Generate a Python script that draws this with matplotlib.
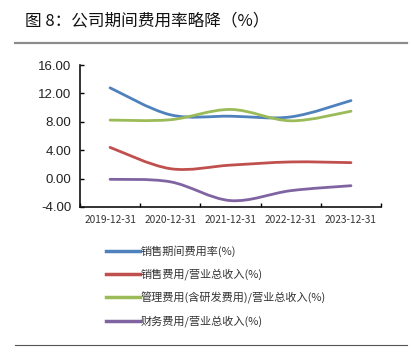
import numpy as np
import matplotlib
matplotlib.use('Agg')
from matplotlib import pyplot as plt
from matplotlib.path import Path
from matplotlib.patches import PathPatch
from matplotlib.lines import Line2D

plt.rcParams['font.family'] = ['Noto Sans CJK SC', 'DejaVu Sans']

# Data
dates = ['2019-12-31', '2020-12-31', '2021-12-31', '2022-12-31', '2023-12-31']
period_rate = [12.8, 9.0, 8.8, 8.7, 11.0]
sales_rate = [4.4, 1.4, 1.9, 2.35, 2.25]
admin_rate = [8.25, 8.3, 9.75, 8.15, 9.5]
finance_rate = [-0.1, -0.45, -3.1, -1.7, -1.0]

labels = ['销售期间费用率(%)', '销售费用/营业总收入(%)',
          '管理费用(含研发费用)/营业总收入(%)', '财务费用/营业总收入(%)']
colors = ['#4F81BD', '#C0504D', '#9BBB59', '#8064A2']
series = [period_rate, sales_rate, admin_rate, finance_rate]


def smooth_path(xs, ys):
    # Excel-like smoothed line: cubic Bezier segments (Catmull-Rom control points)
    pts = np.column_stack([xs, ys]).astype(float)
    n = len(pts)
    verts = [pts[0]]
    codes = [Path.MOVETO]
    for i in range(n - 1):
        p0 = pts[i - 1] if i > 0 else pts[i]
        p1 = pts[i]
        p2 = pts[i + 1]
        p3 = pts[i + 2] if i + 2 < n else pts[i + 1]
        c1 = p1 + (p2 - p0) / 6.0
        c2 = p2 - (p3 - p1) / 6.0
        verts += [c1, c2, p2]
        codes += [Path.CURVE4] * 3
    return Path(verts, codes)


fig = plt.figure(figsize=(4.12, 3.52), dpi=100)
ax = fig.add_axes([0.194, 0.412, 0.731, 0.403])

x = np.arange(len(dates))
for ys, c in zip(series, colors):
    ax.add_patch(PathPatch(smooth_path(x, ys), fill=False, edgecolor=c,
                           lw=2.0, capstyle='round'))

ax.set_xlim(-0.5, len(dates) - 0.5)
ax.set_ylim(-4, 16)
ax.set_yticks(np.arange(-4, 17, 4))
ax.set_yticklabels(['%.2f' % v for v in np.arange(-4, 17, 4)],
                   family='Liberation Sans', fontsize=9.5, color='#222222')
ax.set_xticks(x)
ax.set_xticklabels(dates, fontsize=7.3, color='#333333')
ax.set_xticks(np.arange(-0.5, len(dates), 1), minor=True)
ax.tick_params(axis='x', which='major', length=0, pad=6)
ax.tick_params(axis='x', which='minor', direction='in', length=3, width=1)
ax.tick_params(axis='y', direction='in', length=3, width=1, pad=6)

for s in ['top', 'right']:
    ax.spines[s].set_visible(False)
for s in ['left', 'bottom']:
    ax.spines[s].set_linewidth(1.2)
    ax.spines[s].set_color('#111111')

# Legend
handles = [Line2D([], [], color=c, lw=2.5) for c in colors]
fig.legend(handles, labels, loc='upper left', bbox_to_anchor=(0.245, 0.318),
           frameon=False, fontsize=8, handlelength=3.0, handletextpad=0.1,
           labelspacing=1.02, borderpad=0, labelcolor='#333333')

# Title and rules
fig.text(0.061, 0.94, '图 8：公司期间费用率略降（%）', fontsize=12,
         va='center', ha='left', color='#111111')
fig.add_artist(Line2D([15 / 412, 407 / 412], [1 - 43 / 352, 1 - 43 / 352],
                      color='#8c8c8c', lw=1.6))
fig.add_artist(Line2D([15 / 412, 407 / 412], [1 - 345 / 352, 1 - 345 / 352],
                      color='#555555', lw=0.8))

fig.savefig('out.png', dpi=100)
